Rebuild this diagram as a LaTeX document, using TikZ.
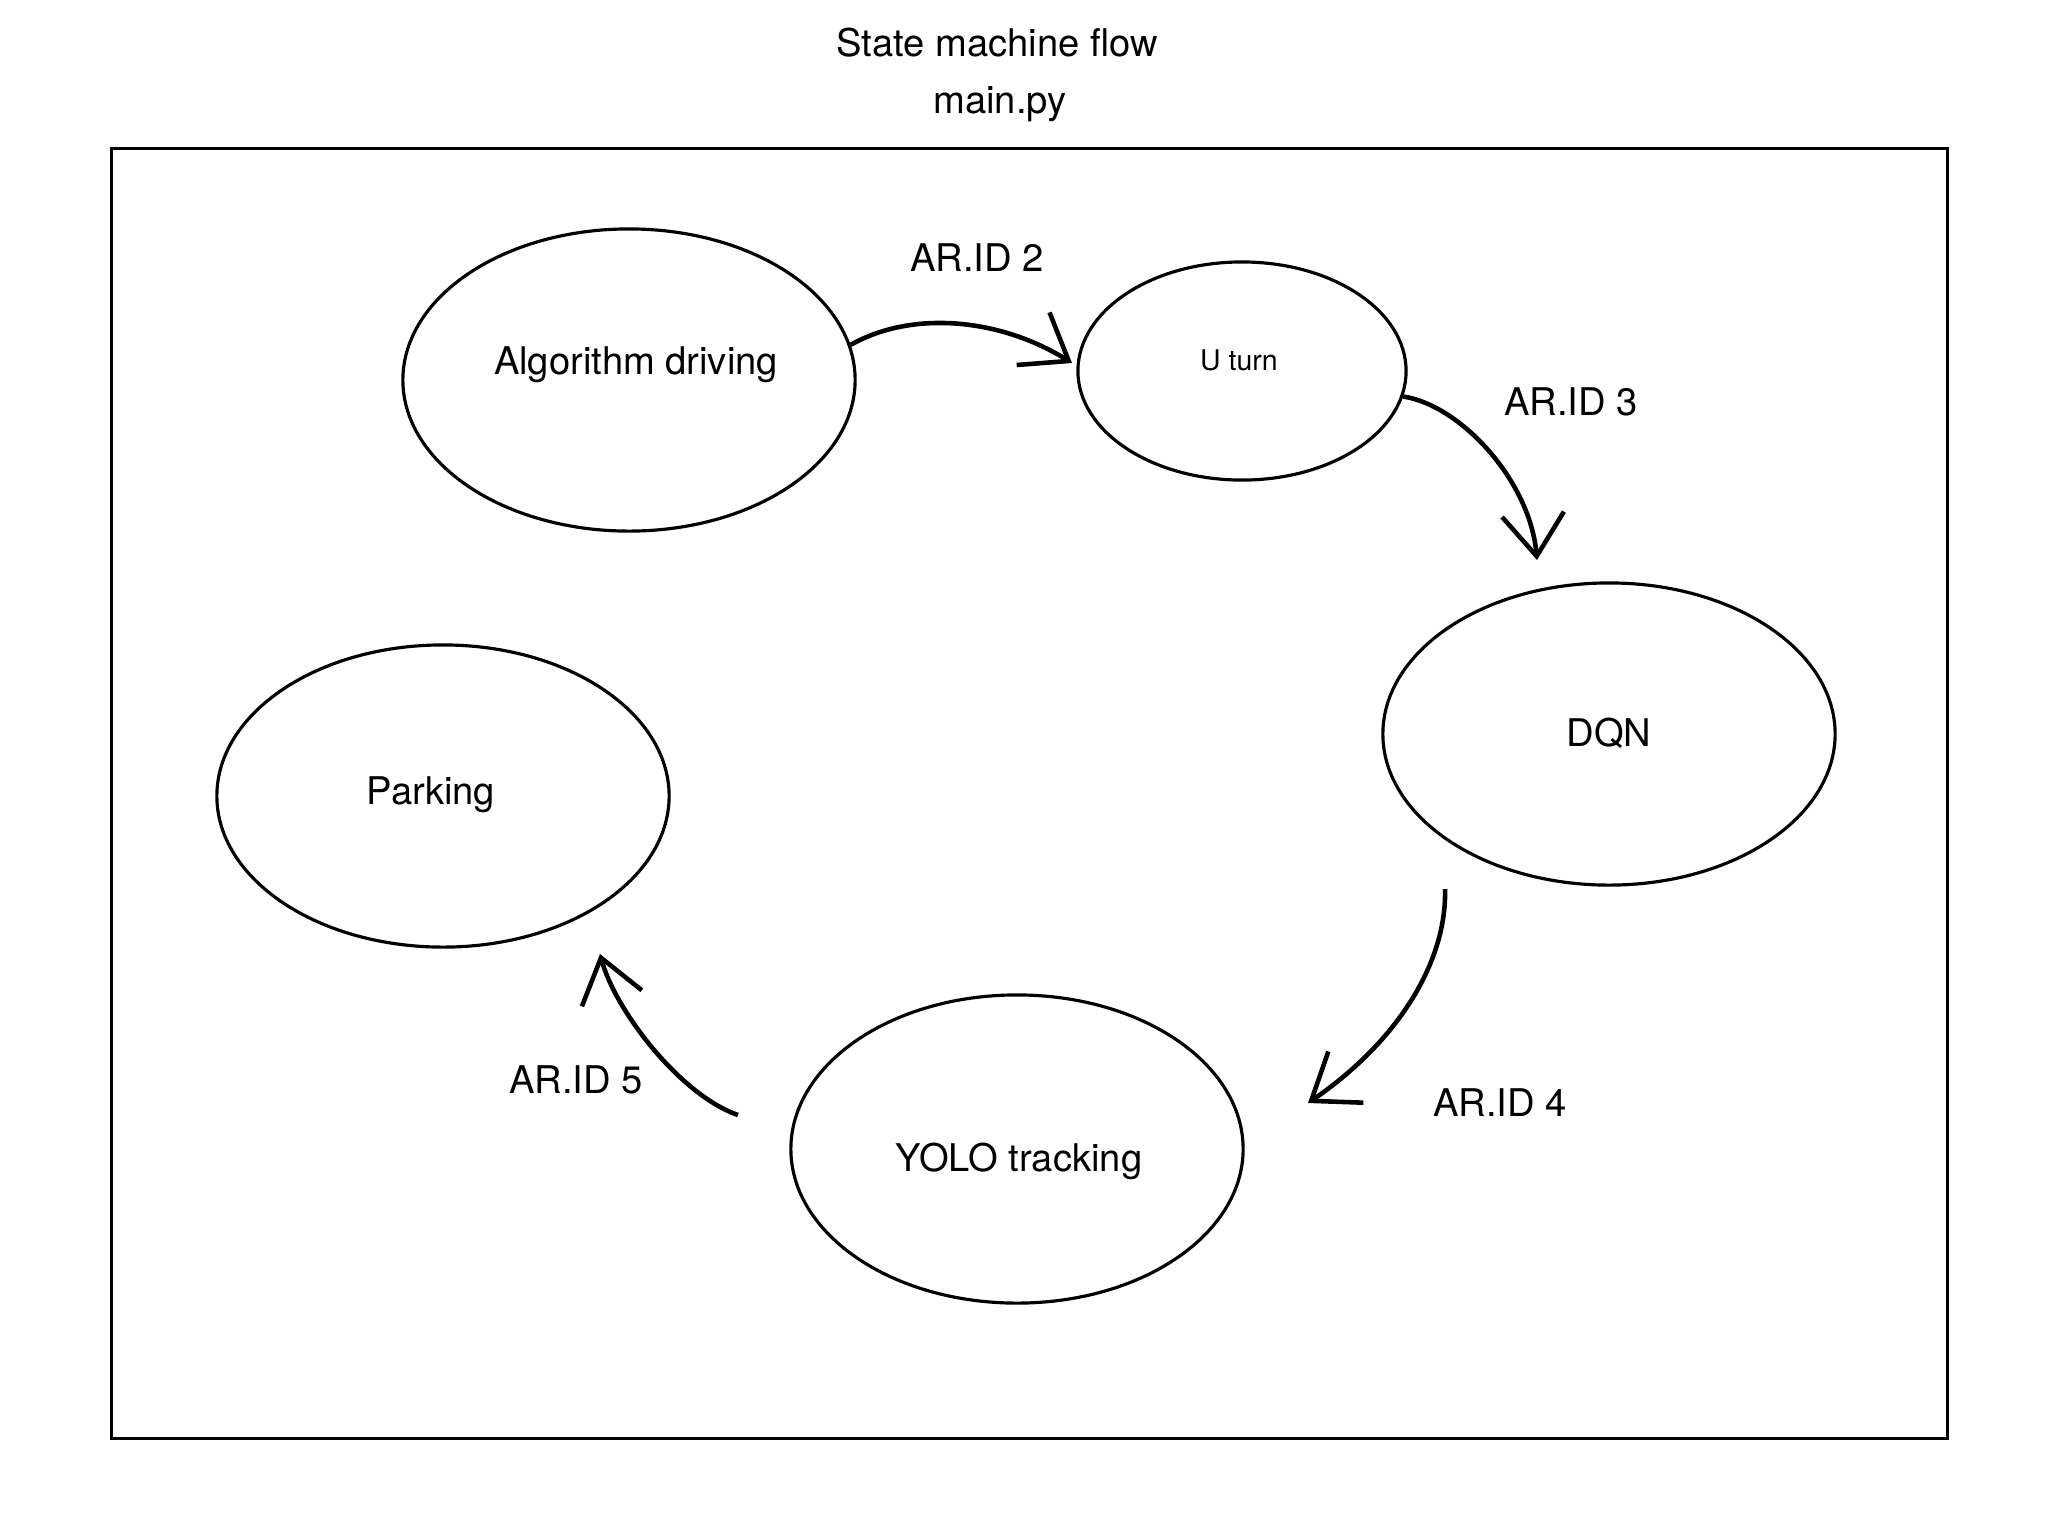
\documentclass[tikz,border=0pt]{standalone}
\usepackage{fontspec}
\setmainfont{TeX Gyre Heros}
\usetikzlibrary{shapes.geometric,arrows.meta}
\begin{document}
\begin{tikzpicture}[x=0.01cm,y=-0.01cm,
  state/.style={draw,ellipse,line width=0.9pt,inner sep=0pt,minimum width=4.52cm,minimum height=3.02cm},
  lbl/.style={anchor=base,inner sep=0pt,font=\fontsize{10.85pt}{12pt}\selectfont},
  small/.style={anchor=base,inner sep=0pt,font=\fontsize{8.1pt}{9pt}\selectfont},
  arr/.style={line width=1.3pt,-{Straight Barb[length=0.42cm,width=0.62cm]}}]
\useasboundingbox (0,0) rectangle (2063,1526);
\fill[white] (0,0) rectangle (2063,1526);
% titles
\node[lbl] (title) at (997,56) {State machine flow};
\node[lbl] (file) at (1000,113) {main.py};
% frame
\node[draw,line width=0.9pt,inner sep=0pt,minimum width=18.35cm,minimum height=12.89cm] (frame) at (1029.5,793.5) {};
% states
\node[state] (alg) at (629,380) {};
\node[lbl] (algt) at (636,374) {Algorithm driving};
\node[state,minimum width=3.28cm,minimum height=2.18cm] (uturn) at (1242,371) {};
\node[small] (uturnt) at (1239,370) {U turn};
\node[state] (dqn) at (1609,734) {};
\node[lbl] (dqnt) at (1609,746) {DQN};
\node[state] (park) at (443,796) {};
\node[lbl] (parkt) at (431,804) {Parking};
\node[state,minimum height=3.08cm] (yolo) at (1017,1149) {};
\node[lbl] (yolot) at (1019,1171) {YOLO tracking};
% connector ends
\coordinate (t2) at (1072,363);
\coordinate (t3) at (1537,560);
\coordinate (s4) at (1445,889);
\coordinate (t4) at (1308,1103);
\coordinate (s5) at (738,1115);
\coordinate (t5) at (600,954);
% connectors
\draw[arr] (alg.9) .. controls (912,310) and (1000,318) .. (t2);
\draw[arr] (uturn.-9) .. controls (1460,405) and (1530,480) .. (t3);
\draw[arr] (s4) .. controls (1447,960) and (1400,1040) .. (t4);
\draw[arr] (s5) .. controls (680,1095) and (615,1010) .. (t5);
% labels
\node[lbl] (l2) at (977,271) {AR.ID 2};
\node[lbl] (l3) at (1571,415) {AR.ID 3};
\node[lbl] (l4) at (1500,1116) {AR.ID 4};
\node[lbl] (l5) at (576,1093) {AR.ID 5};
\end{tikzpicture}
\end{document}
